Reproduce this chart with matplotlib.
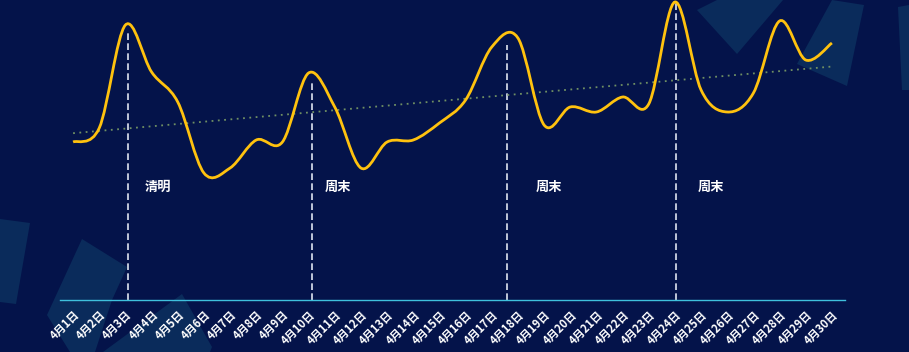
import matplotlib
matplotlib.use("Agg")
import matplotlib.pyplot as plt
import numpy as np
from matplotlib.path import Path
from matplotlib.patches import PathPatch, Polygon

plt.rcParams['font.family'] = ['Noto Sans CJK SC', 'DejaVu Sans']

# data
days = [f"4月{d}日" for d in range(1, 31)]
values = [158, 172, 275, 228, 198, 127, 132, 160, 158, 227,
          193, 132, 158, 160, 177, 200, 253, 262, 175, 193,
          188, 203, 196, 298, 210, 188, 207, 279, 240, 257]
mark_pos = [2.1, 9.12, 16.6, 23.05]
mark_top = [270, 220, 255, 297]
mark_text = ["清明", "周末", "周末", "周末"]
mark_text_x = [2.75, 9.63, 17.69, 23.88]
mark_text_y = 113

BG = "#04134a"
DECO = "#0a2b5b"
W, H = 909, 352

fig = plt.figure(figsize=(W / 100, H / 100), dpi=100, facecolor=BG)

# background decorations (figure pixel coords, y from top)
bg = fig.add_axes([0, 0, 1, 1], zorder=0)
bg.set_xlim(0, W)
bg.set_ylim(H, 0)
bg.axis("off")
deco_shapes = [
    [(0, 219), (30, 223), (16, 304), (0, 302)],
    [(47, 315), (82, 239), (127, 267), (112, 300), (95, 352), (70, 352)],
    [(103, 352), (182, 294), (212, 347), (210, 352)],
    [(697, 10), (717, 0), (783, 0), (737, 54)],
    [(832, 0), (864, 5), (847, 86), (797, 64)],
    [(898, 7), (909, 5), (909, 90), (902, 90)],
]
for shp in deco_shapes:
    bg.add_patch(Polygon(shp, closed=True, facecolor=DECO, edgecolor="none"))

ax = fig.add_axes([60 / W, 52 / H, 785 / W, 300 / H], zorder=1)
ax.set_facecolor("none")
x = np.arange(len(values))
y = np.array(values, dtype=float)

# smooth curve through the points (Catmull-Rom -> cubic Bezier)
pts = np.column_stack([x, y])
ext = np.vstack([pts[0], pts, pts[-1]])
verts = [tuple(pts[0])]
codes = [Path.MOVETO]
for i in range(len(pts) - 1):
    p0, p1, p2, p3 = ext[i], ext[i + 1], ext[i + 2], ext[i + 3]
    c1 = p1 + (p2 - p0) / 6
    c2 = p2 - (p3 - p1) / 6
    verts += [tuple(c1), tuple(c2), tuple(p2)]
    codes += [Path.CURVE4] * 3
ax.add_patch(PathPatch(Path(verts, codes), facecolor="none", edgecolor="#ffc20e",
                       lw=2.0, zorder=4, clip_on=False))

# trend line
k, b = np.polyfit(x, y, 1)
ax.plot(x, k * x + b, color="#6f8f63", lw=1.3, linestyle=(0, (1, 2.5)), zorder=3)

# marker lines and labels
for pos, top, txt, tx in zip(mark_pos, mark_top, mark_text, mark_text_x):
    ax.vlines(pos, 0, top, colors="#dfe4f0", lw=1.2, linestyles=(0, (4, 2)), zorder=2)
    ax.text(tx, mark_text_y, txt, color="white", fontsize=9.5, fontweight="bold",
            ha="left", va="center")

ax.set_xlim(-0.5, len(values) - 0.5)
ax.set_ylim(0, 300)
ax.set_xticks(x)
ax.set_xticklabels(days, rotation=45, ha="right", va="top", rotation_mode="anchor",
                   color="white", fontsize=8, fontweight="bold")
ax.tick_params(axis="x", length=0, pad=6)
ax.set_yticks([])
for s in ["top", "right", "left"]:
    ax.spines[s].set_visible(False)
ax.spines["bottom"].set_color("#3fc0dc")
ax.spines["bottom"].set_linewidth(1.0)

fig.savefig("out.png", dpi=100, facecolor=BG)
